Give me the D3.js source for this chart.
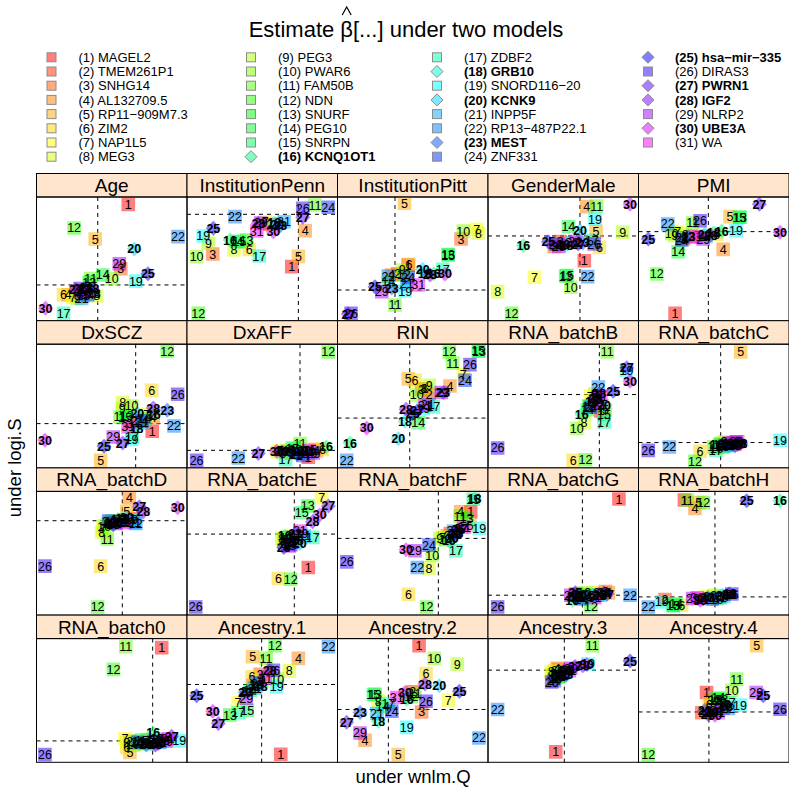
<!DOCTYPE html>
<html lang="en">
<head>
<meta charset="UTF-8">
<title>Estimate beta under two models</title>
<script src="https://d3js.org/d3.v7.min.js"></script>
<style>
  body { margin: 0; background: #fff; font-family: "Liberation Sans", Arial, sans-serif; }
  svg { display: block; }
</style>
</head>
<body>
<svg id="chart" width="789" height="792"></svg>
<script>
// gene names, in legend order (1..31)
const genes = ["MAGEL2","TMEM261P1","SNHG14","AL132709.5","RP11\u2212909M7.3","ZIM2","NAP1L5","MEG3",
  "PEG3","PWAR6","FAM50B","NDN","SNURF","PEG10","SNRPN","KCNQ1OT1",
  "ZDBF2","GRB10","SNORD116\u221220","KCNK9","INPP5F","RP13\u2212487P22.1","MEST","ZNF331",
  "hsa\u2212mir\u2212335","DIRAS3","PWRN1","IGF2","NLRP2","UBE3A","WA"];
// genes drawn as bold diamonds
const boldGenes = [16, 18, 20, 23, 25, 27, 28, 30];

const panelNames = ["Age","InstitutionPenn","InstitutionPitt","GenderMale","PMI",
  "DxSCZ","DxAFF","RIN","RNA_batchB","RNA_batchC",
  "RNA_batchD","RNA_batchE","RNA_batchF","RNA_batchG","RNA_batchH",
  "RNA_batch0","Ancestry.1","Ancestry.2","Ancestry.3","Ancestry.4"];

// position of the zero reference (dashed) lines in each panel, panel units 0..100
const refX = [40.7,74.0,38.2,61.1,46.4, 65.9,75.1,48.0,74.0,54.6, 57.0,71.3,67.0,62.7,50.8, 77.2,49.6,33.8,50.7,46.8];
const refY = [28.9,86.0,24.8,68.5,72.0, 35.8,14.2,40.3,59.3,20.5, 76.3,65.5,62.0,16.1,14.7, 17.3,62.9,42.7,74.5,40.7];

// estimates under wnlm.Q (x) and logi.S (y), one row per panel, genes 1..31
const estX = [
  [61,28,56,21,39,18,24,40,27,50,36,25,35,44,31,33,18,38,66,65,30,94,33,34,74,29,26,37,55,6,31],
  [69.6,55,17.1,78.5,74,41.4,52,31.2,14.2,6.4,85,7.5,39.6,33,34.7,28.6,48,58,10.8,60,64.5,31.9,62,93.9,17.5,76.9,76.9,47.4,49,57.4,46.3],
  [47,40,82.1,36,44.5,47.5,92.5,93.6,43,83.6,38.2,44,73.5,33.8,73.6,64,69.9,58,45,56.6,46,33.8,36,47,24.9,9,7.2,61.5,29.4,71.4,53.7],
  [64,48,44,65.6,71.8,74,30.8,6.4,89.5,55,72.2,15.7,51.6,53.4,52.5,23.5,69,52,71.1,61.1,56,66.2,63,45,40.1,70.6,60,50,47,94.4,58],
  [24.3,35,30,56.3,60.8,52,26,31,24,22.1,36,12.1,67.5,26.4,67,55.3,45,50,64.8,44,29,19.4,33,28.7,6.5,40.9,80.3,48,43,94,38],
  [76.9,65,62,77.6,42.6,76.5,73.2,57.3,57,63.2,55.5,86.9,60,72,59,78,63.5,66.5,63.2,67,69.9,91.4,86.9,70,44.9,93.8,57.3,77.6,51,5.6,60.9],
  [80.6,66,70,86,84,90,62,60,64,68,75.1,93.9,72,74,70,92.4,65.5,76,82,78,80,34.1,73,77,69,6.4,47.4,63,84,59.6,81],
  [58,61,56,74.7,47,51.5,83.6,57.5,61,52.6,76.5,74.3,94,53.7,93.5,8.3,63.7,44.9,57,40.4,60,6.1,70.3,84.7,50,88,53,45.5,69,19.4,58.1],
  [75,72,70,76,78,56.6,68,63.8,71,58.9,79.3,64.8,67,66,77.1,62.3,77.1,69,92,77.1,73,73.3,71,68,83.2,6.4,92.2,74,72,94.4,75],
  [62,58,66,64,67.9,40.9,53,55,57,52,50,37.5,56,54,59,52,51.3,61,94,60,57,20.5,62,63,64,6.5,66,68,65,67,60],
  [64,58,55,61.7,60,42.6,44,43.3,47,45,47,40.6,50,49,52,54,62,57,63,60,65,66,56,48,51,5.6,68.3,71,53,93.8,59],
  [80.6,70,67,71,65,60.7,89.5,63,64,66,72,68.9,80.2,67,76.2,65,83.6,73,76,74.9,78,70,72,69,64.3,5.8,93.9,83.4,68,88.2,75],
  [88.5,75,73,81.9,88,47.1,70,60.8,68,62.9,81.4,59.2,85.8,72,90.2,74,78.7,91,94.2,76,77,53,79,60.8,80,6.2,82,78,51.5,45.5,84],
  [87,58,78,80,76,72,62,60,66,64,61,68.4,63,65,67,56,70,59,75,61,73,94.4,57,62,58,6.4,79,77,55,74,71],
  [30.5,17.6,55,37.5,40,28.7,48,45,50,52,32.4,43.1,23.1,25,23,94,57,60.8,15.4,56,54,6.5,46,49,71.9,62,43,60,36,41,39],
  [83.2,62,70,74,62.1,60,58.8,60,66,64,59.3,51.1,68,72,70,77.6,75,80,94.9,76,78,82,73,67,79,5.6,89.8,84,86,81,87],
  [62.3,44,48.6,74,43.6,43.2,33.9,68,50,60,52.5,58.5,28.5,42,40.1,46,34.1,49,59.6,38.5,45,94,40,47,6.4,57.4,20.8,55,39.4,17.1,52],
  [54.2,50,55.9,18.3,40.4,58.8,73.6,27.1,79.6,64.3,51.5,49,25,30,23.8,46,33.8,27.1,46,67.6,26.2,94,15,36.1,81,58.8,6.1,58.1,15,44.8,39.3],
  [45,48,47,46,49,44,43,42,44,45,69.3,47,48,46,50,51,52,53,66.5,50,49,6.4,52,44,94.4,42.3,57.8,63,55,65.6,54],
  [45.2,42,48,50,78.5,47,52,54,56,62,65.2,6.5,55,53,51,57,60,58,67.4,49,52,59.7,44,56,82.9,94,46,48,78.2,50.8,53]
];
const estY = [
  [94,24,42,21,66,21,19,20,18,34,34,75,31,37,20,25,6,22,32,58,18,68,27,21,38,26,25,26,46,10,22],
  [43.7,78,53.9,72.8,52,57.7,80,57.2,62.6,51.7,93.5,6,65.2,64,63.9,65.2,52.3,79,68.5,78,80,84.1,77,91.7,74.7,90.9,83.6,78.7,79,72,72.5],
  [45,38,66,37,95,45.5,73.9,70.7,41,72.5,12.7,37,53.5,31.5,53.1,38,41.5,38,24,41.5,30.2,36.1,26.4,35,27.5,6,5.4,37,23.5,37.8,28.9],
  [48.5,64,60,92.2,72,59.3,35.1,23.5,71.5,27,92.7,6,36.1,76,36.5,60.6,65,61,82.2,72.8,63,35.6,63,62,63.9,62,62,62,60,94.1,64],
  [6,68,66,57.7,84.1,70,72,70,69,70.6,79,37.8,83.6,55.8,83.6,72.5,68,71,72.8,70,67,78.2,68,65.2,66,80.8,94.1,69,66,71.5,68],
  [29.6,38,36,40.5,6.1,62.7,43.5,52.8,48,50.1,41.2,94.3,42,40,41,43.5,25,32,23.1,43.9,36.6,33.9,46.6,38,17.5,59.5,20.1,48.4,25,22.3,33.4],
  [8.6,13,12,14,15,15,14,13,12,14,19.6,93.7,15,13,16,16.9,6.7,13,12,14,13,8,11,10,13,6.1,11.6,13,12,13.4,14],
  [64,59.7,63.5,66.2,72,70.8,75.4,64,66.7,59,84.8,93.7,94.3,36.6,94.8,20.1,49.3,37.7,48,23.6,51,6.1,60.9,70.8,44,83.5,46,47.5,61,32.3,50.6],
  [46,55,52,50,47,6.1,58,36.6,60,31.8,93.7,6.6,50,47,43.3,43.3,37.1,54,79,50.6,57,65.4,56,49,61.9,16.1,81,60,53,70,58],
  [20,19,21,19,93.7,13.4,18,20,21,16,17,5.3,17,19,18,19,14.2,19,22.3,18,18,16.9,19,20,18,14.2,19,20,21,20,20],
  [78,77,76,94.9,84,39.6,70,67,74,72,61.5,6.6,76,74,75,77,76,78,77,79,75,74,75,76,73,39.6,87.6,83.6,74,86.8,75],
  [38.5,63,62,60,61,29.6,95.2,62,60,63,64,29,88.2,58,82.8,64,62.8,60,66,57.9,64,59,66,57,54.7,6.6,88.2,75.5,56,81,68],
  [83.6,66,64,83.6,72.5,16.9,63,37.9,62,48.5,80,6.6,78,61,93.6,60,52,94,70.1,62,68,38.5,66,56.6,69,43,70,65,52,52.9,71],
  [93.8,17,19,18,17,18,16,15,17,18,14,7.3,16,15,16,12,15,14,16,17,16,16.1,15,13,18,6.6,17,18,16,17,14],
  [93,12.6,15,86.3,91,8,14,15,16,13,93,90.9,8,9,7.5,92.5,15,17.5,10.7,16,14,6.6,14,13,92.5,17,13,17,13.4,12,14],
  [92.7,17,16,18,8,12,19,16,15,14,93.4,75.1,17,15,18,23.7,16,19,17.3,15,17,16,14,16,14,6.2,21,18,17,15,19],
  [6.5,62,71.2,84,85.3,69.2,48.6,73.9,66,67.2,84,94.2,38.2,58,42.1,63,40,61,61,56.4,60,93.5,57,64,53.7,74.4,31.3,74,51.8,41.3,68],
  [94.2,57,40.7,17.8,6.2,71.8,50.2,49.5,79.4,84,55.5,53,55,45,54.8,51,47.5,33.2,28.2,61.8,39.4,19.7,40.2,41.3,57.5,49.4,32.3,63.2,23.7,56.4,52.4],
  [8.4,72,75,76,73,74,71,73,70,68,94.2,69,70,71,72,74,73,75,79.5,70,71,42.7,71,66,81.8,64.9,77.4,78,76,79.1,74],
  [56.4,40,50,48,94.2,47,49,50,49,58.3,67.2,6.2,51,52,51,47,48,45,46.2,41,42,43.5,42,44,53.7,42.9,39,40,56.4,38.1,40]
];

const svg = d3.select("#chart");
const font = "'Liberation Sans', Arial, sans-serif";
const geneColor = i => d3.hsl(i * 10, 1, 0.5).formatHex(); // i = 0-based gene index
const isBold = i => boldGenes.includes(i + 1);

// title with a hat over beta
const title = svg.append("text")
  .attr("x", 406).attr("y", 36.5)
  .attr("text-anchor", "middle")
  .attr("font-family", font).attr("font-size", 22)
  .text("Estimate \u03b2[...] under two models");
const bb = title.node().getExtentOfChar(9);
const hx = bb.x + bb.width / 2;
svg.append("path")
  .attr("d", `M${hx - 4.5},15 L${hx},7 L${hx + 4.5},15`)
  .attr("fill", "none").attr("stroke", "#000").attr("stroke-width", 1.2);

// legend: 4 columns of 8 rows
const legX = [51.5, 251, 437, 648];
const legTop = 57.3, legStep = 14.2;
const legend = svg.append("g");
genes.forEach((g, i) => {
  const col = Math.floor(i / 8), row = i % 8;
  const cx = legX[col], cy = legTop + row * legStep;
  const item = legend.append("g").attr("transform", `translate(${cx},${cy})`);
  if (isBold(i)) {
    item.append("path").attr("d", "M0,-6 L6,0 L0,6 L-6,0 Z")
      .attr("fill", geneColor(i)).attr("fill-opacity", 0.5)
      .attr("stroke", "#8c8c8c").attr("stroke-width", 1);
  } else {
    item.append("rect").attr("x", -4.5).attr("y", -4.5).attr("width", 9).attr("height", 9)
      .attr("fill", geneColor(i)).attr("fill-opacity", 0.5)
      .attr("stroke", "#8c8c8c").attr("stroke-width", 1);
  }
  item.append("text").attr("x", 27).attr("y", 0).attr("dy", "0.36em")
    .attr("font-family", font).attr("font-size", 13)
    .attr("font-weight", isBold(i) ? "bold" : "normal")
    .text(`(${i + 1}) ${g}`);
});

// panel grid
const gridLeft = 36.5, colW = 150.5, gridTop = 173.5, stripH = 23.5, panelH = 123.7;
const rowH = stripH + panelH;

panelNames.forEach((name, p) => {
  const col = p % 5, row = Math.floor(p / 5);
  const x0 = gridLeft + col * colW;
  const y0 = gridTop + row * rowH;
  const py = y0 + stripH;

  const x = d3.scaleLinear().domain([0, 100]).range([x0, x0 + colW]);
  const y = d3.scaleLinear().domain([0, 100]).range([py + panelH, py]);

  const g = svg.append("g");
  g.append("rect").attr("x", x0).attr("y", y0).attr("width", colW).attr("height", stripH)
    .attr("fill", "#ffe5cc").attr("stroke", "#000").attr("stroke-width", 1);
  g.append("text").attr("x", x0 + colW / 2).attr("y", y0 + stripH / 2).attr("dy", "0.36em")
    .attr("text-anchor", "middle").attr("font-family", font).attr("font-size", 19)
    .text(name);

  const clipId = "clip" + p;
  g.append("clipPath").attr("id", clipId).append("rect")
    .attr("x", x0).attr("y", py).attr("width", colW).attr("height", panelH);
  const inner = g.append("g").attr("clip-path", `url(#${clipId})`);

  inner.append("line").attr("x1", x(refX[p])).attr("x2", x(refX[p]))
    .attr("y1", py).attr("y2", py + panelH)
    .attr("stroke", "#000").attr("stroke-dasharray", "4,4");
  inner.append("line").attr("x1", x0).attr("x2", x0 + colW)
    .attr("y1", y(refY[p])).attr("y2", y(refY[p]))
    .attr("stroke", "#000").attr("stroke-dasharray", "4,4");

  const pts = genes.map((gname, i) => ({ i, x: estX[p][i], y: estY[p][i] }));
  inner.selectAll("path.pt").data(pts).enter().append("path")
    .attr("class", "pt")
    .attr("transform", d => `translate(${x(d.x)},${y(d.y)})`)
    .attr("d", d => isBold(d.i) ? "M0,-7.5 L7.5,0 L0,7.5 L-7.5,0 Z" : "M-6.8,-6.8 H6.8 V6.8 H-6.8 Z")
    .attr("fill", d => geneColor(d.i)).attr("fill-opacity", 0.5);
  inner.selectAll("text.lab").data(pts).enter().append("text")
    .attr("class", "lab")
    .attr("x", d => x(d.x)).attr("y", d => y(d.y)).attr("dy", "0.36em")
    .attr("text-anchor", "middle").attr("font-family", font).attr("font-size", 12.5)
    .attr("font-weight", d => isBold(d.i) ? "bold" : "normal")
    .text(d => d.i + 1);

  g.append("rect").attr("x", x0).attr("y", py).attr("width", colW).attr("height", panelH)
    .attr("fill", "none").attr("stroke", "#000").attr("stroke-width", 1);
});

// axis titles
svg.append("text").attr("x", 413).attr("y", 783)
  .attr("text-anchor", "middle").attr("font-family", font).attr("font-size", 18.5)
  .text("under wnlm.Q");
svg.append("text")
  .attr("transform", `translate(21,${gridTop + 2 * rowH}) rotate(-90)`)
  .attr("text-anchor", "middle").attr("font-family", font).attr("font-size", 18.5)
  .text("under logi.S");
</script>
</body>
</html>
